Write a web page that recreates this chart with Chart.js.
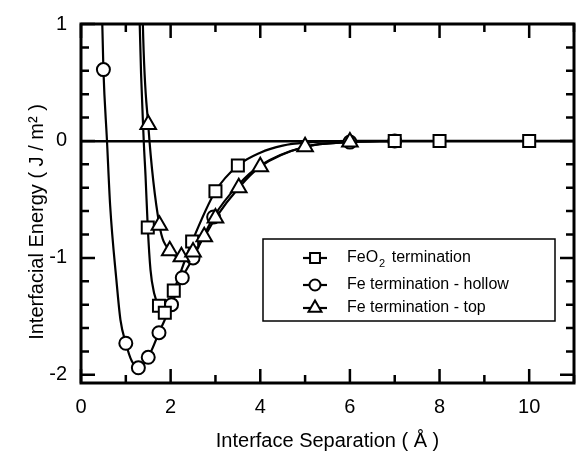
<!DOCTYPE html>
<html>
<head>
<meta charset="utf-8">
<script src="https://cdn.jsdelivr.net/npm/chart.js@4/dist/chart.umd.min.js"></script>
<style>
  html, body { margin: 0; padding: 0; background: #fff; }
  #wrap { width: 576px; height: 457px; position: relative; }
</style>
</head>
<body>
<div id="wrap"><canvas id="chart"></canvas></div>
<script>
// axis ticks
const xTicks = [0, 2, 4, 6, 8, 10];
const yTicks = [-2, -1, 0, 1];

// FeO2 termination: computed points
const feo2X = [1.49, 1.74, 1.87, 2.07, 2.48, 3.0, 3.5, 7.0, 8.0, 10.0];
const feo2Y = [-0.74, -1.41, -1.47, -1.28, -0.86, -0.43, -0.21, 0, 0, 0];
// FeO2 termination: fitted curve
const feo2FitX = [1.26, 1.31, 1.40, 1.44, 1.49, 1.55, 1.63, 1.74, 1.87, 2.07, 2.48, 3.0, 3.5, 4.0, 4.5, 5.0, 6.0, 7.0, 8.0, 10.0, 11.0];
const feo2FitY = [2.2, 1.0, 0.0, -0.3, -0.74, -1.1, -1.3, -1.41, -1.47, -1.28, -0.86, -0.43, -0.21, -0.1, -0.04, -0.015, 0, 0, 0, 0, 0];

// Fe termination - hollow
const hollowX = [0.5, 1.0, 1.28, 1.5, 1.74, 2.02, 2.26, 2.5, 2.96, 6.0, 7.0];
const hollowY = [0.61, -1.73, -1.94, -1.85, -1.64, -1.40, -1.17, -1.0, -0.65, -0.01, 0];
const hollowFitX = [0.44, 0.475, 0.5, 0.58, 0.65, 0.79, 0.88, 1.0, 1.13, 1.28, 1.5, 1.74, 2.02, 2.26, 2.5, 2.96, 3.5, 4.0, 5.0, 6.0, 7.0];
const hollowFitY = [1.8, 1.0, 0.61, 0.0, -0.55, -1.19, -1.53, -1.73, -1.88, -1.94, -1.85, -1.64, -1.40, -1.17, -1.0, -0.65, -0.38, -0.21, -0.05, -0.01, 0];

// Fe termination - top
const topX = [1.5, 1.75, 1.98, 2.24, 2.5, 2.75, 3.0, 3.52, 4.0, 5.0, 6.0];
const topY = [0.14, -0.72, -0.94, -0.99, -0.95, -0.82, -0.66, -0.40, -0.22, -0.05, -0.01];
const topFitX = [1.33, 1.38, 1.5, 1.75, 1.98, 2.24, 2.5, 2.75, 3.0, 3.52, 4.0, 5.0, 6.0, 7.0];
const topFitY = [2.2, 1.0, 0.14, -0.72, -0.94, -0.99, -0.95, -0.82, -0.66, -0.40, -0.22, -0.05, -0.01, 0];

const FONT = 'Liberation Sans, Arial, sans-serif';

function pts(xs, ys) {
  return xs.map((x, i) => ({ x: x, y: ys[i] }));
}

function markers(label, xs, ys, style, radius, order) {
  return {
    label: label,
    data: pts(xs, ys),
    showLine: false,
    pointStyle: style,
    pointRadius: radius,
    pointHoverRadius: radius,
    pointBorderWidth: 2,
    pointBorderColor: '#000',
    pointBackgroundColor: '#fff',
    order: order
  };
}

function curve(xs, ys) {
  return {
    data: pts(xs, ys),
    showLine: true,
    borderColor: '#000',
    borderWidth: 2.2,
    pointRadius: 0,
    cubicInterpolationMode: 'monotone',
    order: 10
  };
}

// frame, inward ticks, axis titles and legend box
const decorations = {
  id: 'decorations',
  afterDraw(chart) {
    const { ctx, chartArea: a, scales: { x, y } } = chart;
    ctx.save();
    ctx.strokeStyle = '#000';
    ctx.lineWidth = 2.5;
    ctx.beginPath();
    for (let v = 0; v <= 11; v++) {
      const px = x.getPixelForValue(v);
      const len = v % 2 === 0 ? 14 : 8;
      ctx.moveTo(px, a.bottom); ctx.lineTo(px, a.bottom - len);
      ctx.moveTo(px, a.top); ctx.lineTo(px, a.top + len);
    }
    for (let k = -10; k <= 5; k++) {
      const v = k / 5;
      const py = y.getPixelForValue(v);
      const len = k % 5 === 0 ? 14 : 8;
      ctx.moveTo(a.left, py); ctx.lineTo(a.left + len, py);
      ctx.moveTo(a.right, py); ctx.lineTo(a.right - len, py);
    }
    ctx.stroke();
    ctx.lineWidth = 3;
    ctx.strokeRect(a.left, a.top, a.right - a.left, a.bottom - a.top);

    // axis titles
    ctx.fillStyle = '#000';
    ctx.font = '20px ' + FONT;
    ctx.textAlign = 'center';
    ctx.textBaseline = 'middle';
    ctx.fillText('Interface Separation ( \u00C5 )', (a.left + a.right) / 2, 441);
    ctx.save();
    ctx.translate(37, 222);
    ctx.rotate(-Math.PI / 2);
    ctx.fillText('Interfacial Energy ( J / m\u00B2 )', 0, 0);
    ctx.restore();

    // legend
    const bx = 263, by = 239, bw = 292, bh = 82;
    ctx.fillStyle = '#fff';
    ctx.fillRect(bx, by, bw, bh);
    ctx.lineWidth = 1.5;
    ctx.strokeRect(bx, by, bw, bh);
    const rows = [
      { ds: chart.data.datasets[2], y: 258, r: 7 },
      { ds: chart.data.datasets[1], y: 285, r: 5.5 },
      { ds: chart.data.datasets[0], y: 308, r: 7.5 }
    ];
    rows.forEach(row => {
      ctx.lineWidth = 2.2;
      ctx.beginPath();
      ctx.moveTo(303, row.y); ctx.lineTo(327, row.y);
      ctx.stroke();
      ctx.fillStyle = '#fff';
      ctx.strokeStyle = '#000';
      ctx.lineWidth = 2;
      Chart.helpers.drawPoint(ctx, { pointStyle: row.ds.pointStyle, radius: row.r, borderWidth: 2, rotation: 0 }, 315, row.y);
    });
    ctx.fillStyle = '#000';
    ctx.textAlign = 'left';
    ctx.textBaseline = 'middle';
    ctx.font = '16px ' + FONT;
    ctx.fillText('FeO', 347, 258);
    let w = ctx.measureText('FeO').width;
    ctx.font = '11px ' + FONT;
    ctx.fillText('2', 347 + w + 1, 264);
    w += ctx.measureText('2').width + 1;
    ctx.font = '16px ' + FONT;
    ctx.fillText(' termination', 347 + w + 2, 258);
    ctx.fillText('Fe termination - hollow', 347, 285);
    ctx.fillText('Fe termination - top', 347, 308);
    ctx.restore();
  }
};

const chart = new Chart(document.getElementById('chart'), {
  type: 'scatter',
  data: {
    datasets: [
      markers('Fe termination - top', topX, topY, 'triangle', 9, 1),
      markers('Fe termination - hollow', hollowX, hollowY, 'circle', 6.5, 3),
      markers('FeO2 termination', feo2X, feo2Y, 'rect', 8.5, 2),
      curve(feo2FitX, feo2FitY),
      curve(hollowFitX, hollowFitY),
      curve(topFitX, topFitY)
    ]
  },
  options: {
    responsive: true,
    maintainAspectRatio: false,
    animation: false,
    devicePixelRatio: 1,
    layout: { autoPadding: false, padding: { left: 0, top: 24, right: 2, bottom: 0 } },
    plugins: { legend: { display: false }, tooltip: { enabled: false } },
    scales: {
      x: {
        type: 'linear',
        min: 0,
        max: 11,
        afterBuildTicks: s => { s.ticks = xTicks.map(v => ({ value: v })); },
        afterFit: s => { s.height = 74; s.paddingLeft = 0; s.paddingRight = 0; },
        grid: { display: false, drawTicks: false },
        border: { display: false },
        ticks: { font: { family: FONT, size: 20 }, color: '#000', padding: 12, maxRotation: 0 }
      },
      y: {
        type: 'linear',
        min: -2.07,
        max: 1,
        afterBuildTicks: s => { s.ticks = yTicks.map(v => ({ value: v })); },
        afterFit: s => { s.width = 81; s.paddingTop = 0; s.paddingBottom = 0; },
        grid: {
          drawTicks: false,
          color: c => (c.tick && c.tick.value === 0 ? '#000' : 'rgba(0,0,0,0)'),
          lineWidth: 2.5
        },
        border: { display: false },
        ticks: { font: { family: FONT, size: 20 }, color: '#000', padding: 14 }
      }
    }
  },
  plugins: [decorations]
});
</script>
</body>
</html>
